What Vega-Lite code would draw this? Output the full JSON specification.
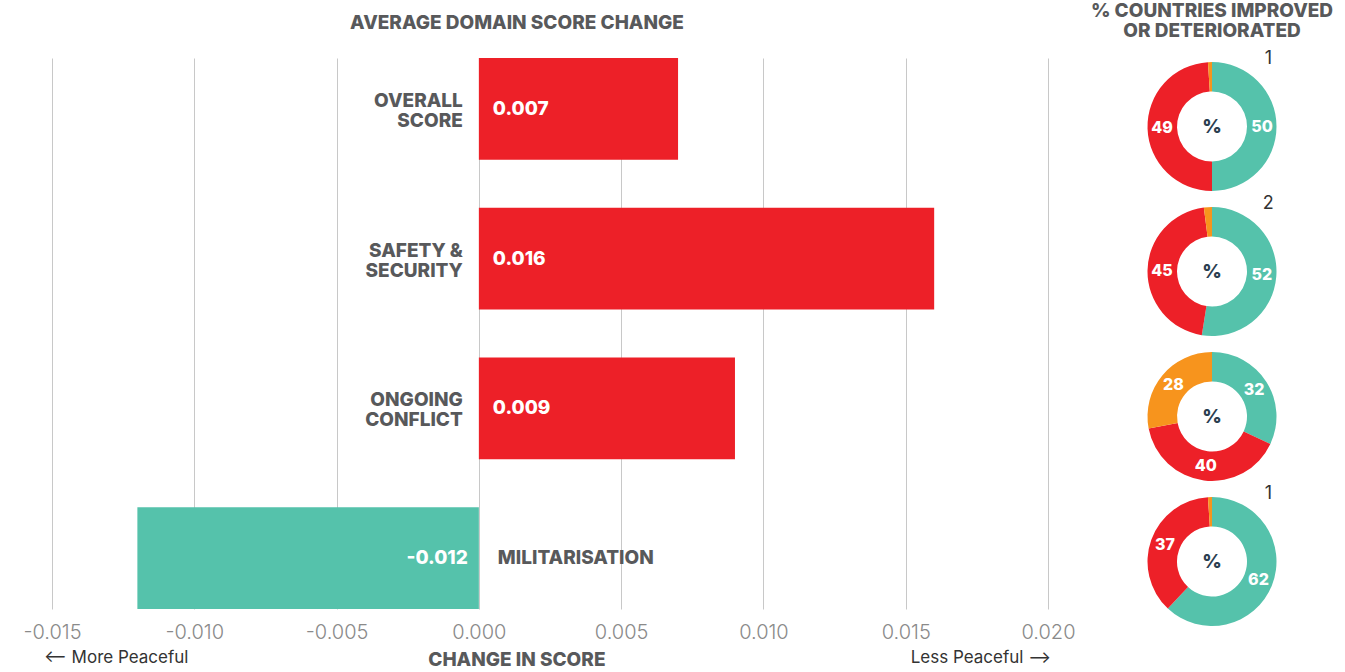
{
  "$schema": "https://vega.github.io/schema/vega-lite/v6.json",
  "padding": {"top": 0, "left": 22, "right": 0, "bottom": 0},
  "config": {
    "view": {"stroke": null},
    "font": "Inter",
    "locale": {"number": {"decimal": ".", "thousands": ",", "grouping": [3], "currency": ["$", ""], "minus": "-"}}
  },
  "datasets": {
    "bars": [
      {"domain": "Overall Score", "label": "OVERALL\nSCORE", "value": 0.007},
      {"domain": "Safety & Security", "label": "SAFETY &\nSECURITY", "value": 0.016},
      {"domain": "Ongoing Conflict", "label": "ONGOING\nCONFLICT", "value": 0.009},
      {"domain": "Militarisation", "label": "MILITARISATION", "value": -0.012}
    ],
    "donuts": [
      {"domain": "Overall Score", "status": "Improved", "pct": 50, "order": 1},
      {"domain": "Overall Score", "status": "Deteriorated", "pct": 49, "order": 2},
      {"domain": "Overall Score", "status": "No change", "pct": 1, "order": 3},
      {"domain": "Safety & Security", "status": "Improved", "pct": 52, "order": 1},
      {"domain": "Safety & Security", "status": "Deteriorated", "pct": 45, "order": 2},
      {"domain": "Safety & Security", "status": "No change", "pct": 2, "order": 3},
      {"domain": "Ongoing Conflict", "status": "Improved", "pct": 32, "order": 1},
      {"domain": "Ongoing Conflict", "status": "Deteriorated", "pct": 40, "order": 2},
      {"domain": "Ongoing Conflict", "status": "No change", "pct": 28, "order": 3},
      {"domain": "Militarisation", "status": "Improved", "pct": 62, "order": 1},
      {"domain": "Militarisation", "status": "Deteriorated", "pct": 37, "order": 2},
      {"domain": "Militarisation", "status": "No change", "pct": 1, "order": 3}
    ]
  },
  "hconcat": [
    {
      "bounds": "flush",
      "spacing": 14,
      "vconcat": [
        {
          "width": 996,
          "height": 44,
          "data": {"values": [{}]},
          "mark": {"type": "text", "text": "AVERAGE DOMAIN SCORE CHANGE", "dx": -33, "dy": 1, "fontSize": 19, "fontWeight": 800, "fill": "#58595B", "baseline": "middle"}
        },
        {
          "width": 996,
          "height": 551,
          "data": {"name": "bars"},
          "encoding": {
            "y": {"field": "domain", "type": "nominal", "sort": ["Overall Score", "Safety & Security", "Ongoing Conflict", "Militarisation"], "axis": null, "scale": {"paddingInner": 0.32, "paddingOuter": 0}}
          },
          "layer": [
            {
              "mark": {"type": "bar"},
              "encoding": {
                "x": {
                  "field": "value", "type": "quantitative",
                  "scale": {"domain": [-0.015, 0.02], "nice": false, "zero": false},
                  "axis": {"values": [-0.015, -0.01, -0.005, 0, 0.005, 0.01, 0.015, 0.02], "format": ".3f", "domain": false, "ticks": false, "grid": true, "gridColor": "#c8c8c8", "gridWidth": 1, "labelFontSize": 20, "labelColor": "#8a8a8a", "labelPadding": 13, "labelFlush": false, "title": null, "labelFontWeight": 300}
                },
                "color": {"condition": {"test": "datum.value < 0", "value": "#55C2AB"}, "value": "#ED2028"}
              }
            },
            {
              "transform": [{"filter": "datum.value >= 0"}],
              "mark": {"type": "text", "align": "left", "dx": 14, "baseline": "middle", "fontSize": 19, "fontWeight": 800, "fill": "#ffffff"},
              "encoding": {"x": {"datum": 0, "type": "quantitative"}, "text": {"field": "value", "type": "quantitative", "format": ".3f"}}
            },
            {
              "transform": [{"filter": "datum.value < 0"}],
              "mark": {"type": "text", "align": "right", "dx": -11, "baseline": "middle", "fontSize": 19, "fontWeight": 800, "fill": "#ffffff"},
              "encoding": {"x": {"datum": 0, "type": "quantitative"}, "text": {"field": "value", "type": "quantitative", "format": ".3f"}}
            },
            {
              "transform": [{"filter": "datum.value >= 0"}],
              "mark": {"type": "text", "align": "right", "dx": -16, "dy": -8, "baseline": "middle", "lineBreak": "\n", "lineHeight": 20, "fontSize": 19, "fontWeight": 800, "fill": "#58595B"},
              "encoding": {"x": {"datum": 0, "type": "quantitative"}, "text": {"field": "label", "type": "nominal"}}
            },
            {
              "transform": [{"filter": "datum.value < 0"}],
              "mark": {"type": "text", "align": "left", "dx": 19, "baseline": "middle", "lineBreak": "\n", "lineHeight": 20, "fontSize": 19, "fontWeight": 800, "fill": "#58595B"},
              "encoding": {"x": {"datum": 0, "type": "quantitative"}, "text": {"field": "label", "type": "nominal"}}
            }
          ]
        },
        {
          "width": 996,
          "height": 70,
          "data": {"values": [{}]},
          "encoding": {
            "x": {"datum": 0, "type": "quantitative", "scale": {"domain": [-0.015, 0.02], "nice": false, "zero": false}, "axis": null}
          },
          "layer": [
            {
              "mark": {"type": "text", "text": "⟵ More Peaceful", "align": "left", "dx": -8, "baseline": "middle", "fontSize": 17, "fill": "#333333"},
              "encoding": {"x": {"datum": -0.015, "type": "quantitative"}}
            },
            {
              "mark": {"type": "text", "text": "CHANGE IN SCORE", "align": "center", "dx": 38, "dy": 2, "baseline": "middle", "fontSize": 19, "fontWeight": 800, "fill": "#58595B"},
              "encoding": {"x": {"datum": 0, "type": "quantitative"}}
            },
            {
              "mark": {"type": "text", "text": "Less Peaceful ⟶", "align": "right", "dx": 3, "baseline": "middle", "fontSize": 17, "fill": "#333333"},
              "encoding": {"x": {"datum": 0.02, "type": "quantitative"}}
            }
          ]
        }
      ]
    },
    {
      "bounds": "flush",
      "spacing": 10,
      "vconcat": [
        {
          "width": 250,
          "height": 44,
          "data": {"values": [{}]},
          "mark": {"type": "text", "text": "% COUNTRIES IMPROVED\nOR DETERIORATED", "lineBreak": "\n", "lineHeight": 20.5, "dy": -11.5, "baseline": "middle", "fontSize": 19, "fontWeight": 800, "fill": "#58595B"}
        },
        {
          "data": {"name": "donuts"},
          "bounds": "flush",
          "facet": {
            "row": {"field": "domain", "type": "nominal", "sort": ["Overall Score", "Safety & Security", "Ongoing Conflict", "Militarisation"], "header": {"labels": false, "title": null}, "title": null}
          },
          "spacing": 0,
          "resolve": {"scale": {"theta": "independent"}},
          "spec": {
            "width": 250,
            "height": 145,
            "layer": [
              {
                "mark": {"type": "arc", "outerRadius": 64.5, "innerRadius": 35},
                "encoding": {
                  "theta": {"field": "pct", "type": "quantitative", "stack": true},
                  "order": {"field": "order", "type": "quantitative"},
                  "color": {"field": "status", "type": "nominal", "scale": {"domain": ["Improved", "Deteriorated", "No change"], "range": ["#55C2AB", "#ED2028", "#F7941D"]}, "legend": null}
                }
              },
              {
                "mark": {"type": "text", "radius": 50, "fill": "#ffffff", "fontSize": 16, "fontWeight": 800, "baseline": "middle", "align": "center"},
                "encoding": {
                  "theta": {"field": "pct", "type": "quantitative", "stack": true},
                  "order": {"field": "order", "type": "quantitative"},
                  "detail": {"field": "status", "type": "nominal"},
                  "text": {"field": "pct", "type": "quantitative"},
                  "opacity": {"condition": {"test": "datum.pct < 5", "value": 0}, "value": 1}
                }
              },
              {
                "mark": {"type": "text", "radius": 68, "dx": 55, "fill": "#333333", "fontSize": 18, "baseline": "middle", "align": "left"},
                "encoding": {
                  "theta": {"field": "pct", "type": "quantitative", "stack": true},
                  "order": {"field": "order", "type": "quantitative"},
                  "detail": {"field": "status", "type": "nominal"},
                  "text": {"field": "pct", "type": "quantitative"},
                  "opacity": {"condition": {"test": "datum.pct < 5", "value": 1}, "value": 0}
                }
              },
              {
                "transform": [{"filter": "datum.order == 1"}],
                "mark": {"type": "text", "text": "%", "fill": "#2B3E50", "fontSize": 19, "fontWeight": 800, "baseline": "middle", "align": "center"}
              }
            ]
          }
        }
      ]
    }
  ],
  "spacing": 12
}
